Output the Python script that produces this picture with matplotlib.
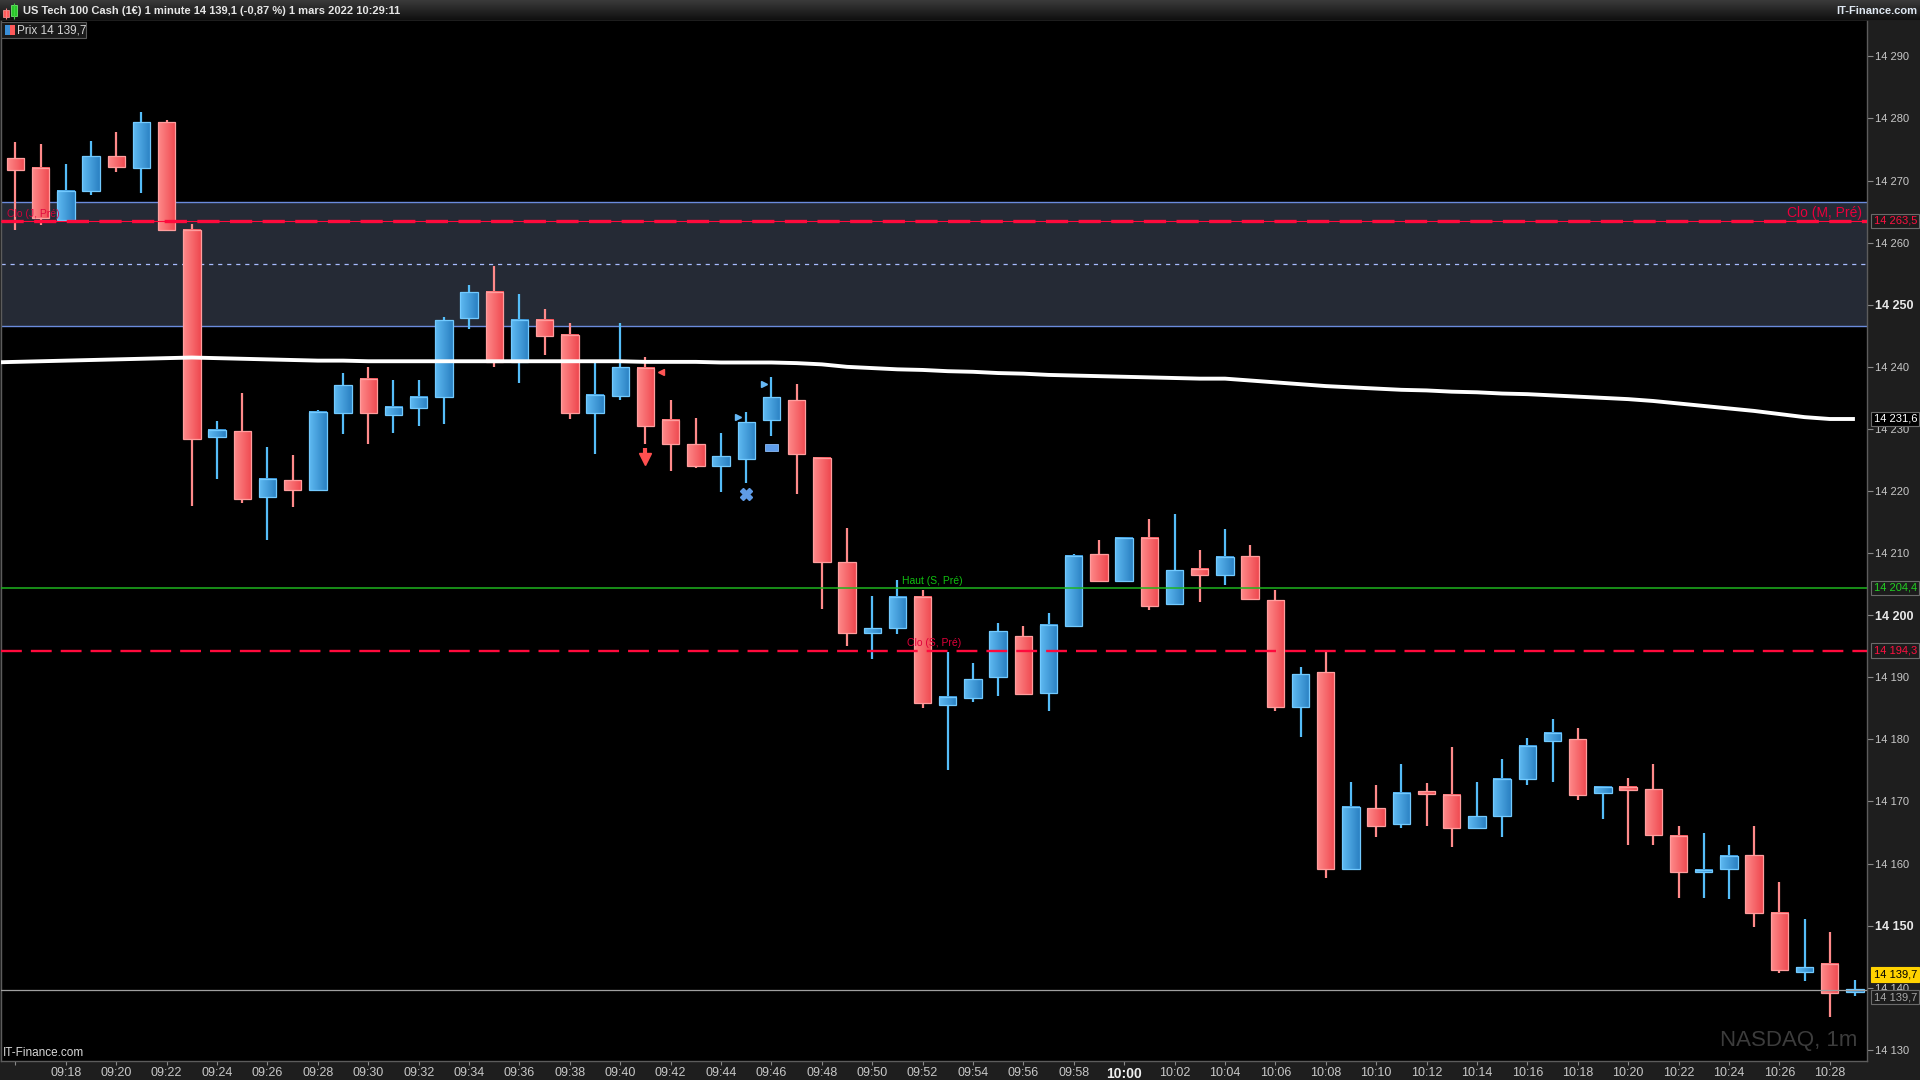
import numpy as np
import matplotlib.pyplot as plt
import matplotlib.transforms as mtransforms
from matplotlib.colors import LinearSegmentedColormap
from matplotlib.patches import Rectangle

plt.rcParams['font.family'] = ['Liberation Sans', 'DejaVu Sans']
plt.rcParams['lines.scale_dashes'] = False
NARROW = ['Liberation Sans Narrow', 'Liberation Sans', 'DejaVu Sans']

# US Tech 100 Cash, 1 minute candles, 1 mars 2022, first candle 09:16
first_minute = '09:16'
opens = [14273.6, 14272.0, 14263.7, 14268.4, 14273.9, 14272.1, 14279.4, 14262.1, 14228.7, 14229.6,
         14219.1, 14221.7, 14220.1, 14232.6, 14238.0, 14232.2, 14233.3, 14235.2, 14247.9, 14252.0,
         14240.7, 14247.5, 14245.1, 14232.5, 14235.3, 14239.8, 14231.4, 14227.5, 14224.1, 14225.2,
         14231.5, 14234.6, 14225.3, 14208.5, 14197.2, 14197.9, 14203.0, 14185.5, 14186.7, 14190.0,
         14196.6, 14187.4, 14198.2, 14209.8, 14205.5, 14212.5, 14201.8, 14207.5, 14206.4, 14209.5,
         14202.4, 14185.2, 14190.8, 14159.1, 14168.9, 14166.3, 14171.5, 14171.1, 14165.7, 14167.6,
         14173.6, 14179.7, 14180.0, 14171.3, 14172.4, 14172.0, 14164.4, 14158.6, 14159.1, 14161.3,
         14152.0, 14142.6, 14143.9, 14139.3]
highs = [14276.2, 14275.9, 14272.7, 14276.4, 14277.8, 14281.0, 14279.7, 14263.0, 14231.3, 14235.8,
         14227.1, 14225.8, 14233.0, 14239.0, 14240.0, 14237.9, 14237.9, 14248.1, 14253.2, 14256.2,
         14251.7, 14249.3, 14247.1, 14240.8, 14247.1, 14241.6, 14234.7, 14231.8, 14229.3, 14232.7,
         14238.4, 14237.2, 14225.5, 14214.0, 14203.1, 14205.7, 14204.1, 14194.0, 14192.3, 14198.7,
         14198.2, 14200.4, 14209.9, 14212.1, 14212.5, 14215.5, 14216.3, 14210.5, 14213.9, 14211.3,
         14204.1, 14191.7, 14194.2, 14173.1, 14172.7, 14176.0, 14173.0, 14178.8, 14173.1, 14176.9,
         14180.2, 14183.3, 14181.9, 14172.4, 14173.7, 14176.1, 14166.0, 14165.0, 14163.0, 14166.0,
         14157.1, 14151.0, 14149.0, 14141.2]
lows = [14262.0, 14262.9, 14263.5, 14267.6, 14271.3, 14268.0, 14262.1, 14217.6, 14222.0, 14218.1,
        14212.1, 14217.5, 14220.1, 14229.2, 14227.6, 14229.4, 14230.4, 14230.8, 14246.1, 14240.0,
        14237.4, 14241.9, 14231.6, 14226.0, 14234.7, 14227.5, 14223.3, 14223.7, 14219.9, 14221.3,
        14228.8, 14219.5, 14201.0, 14195.1, 14193.0, 14197.0, 14185.1, 14175.1, 14186.1, 14187.0,
        14187.3, 14184.6, 14198.2, 14205.5, 14205.5, 14200.9, 14201.8, 14202.2, 14204.8, 14202.6,
        14184.5, 14180.4, 14157.6, 14159.1, 14164.3, 14165.8, 14166.0, 14162.6, 14165.7, 14164.3,
        14172.7, 14173.2, 14170.3, 14167.1, 14163.0, 14163.0, 14154.5, 14154.5, 14154.3, 14149.8,
        14142.4, 14141.1, 14135.3, 14138.6]
closes = [14271.7, 14263.9, 14268.4, 14273.9, 14272.2, 14279.4, 14262.1, 14228.3, 14229.9, 14218.7,
          14222.0, 14220.1, 14232.8, 14237.0, 14232.5, 14233.6, 14235.1, 14247.6, 14252.0, 14240.7,
          14247.6, 14244.9, 14232.5, 14235.4, 14239.9, 14230.4, 14227.5, 14224.1, 14225.6, 14231.1,
          14235.2, 14226.0, 14208.5, 14197.1, 14198.0, 14203.0, 14185.8, 14186.9, 14189.7, 14197.4,
          14187.3, 14198.5, 14209.6, 14205.5, 14212.5, 14201.5, 14207.2, 14206.4, 14209.3, 14202.6,
          14185.2, 14190.5, 14159.1, 14169.1, 14166.1, 14171.3, 14171.3, 14165.7, 14167.6, 14173.6,
          14179.0, 14181.0, 14171.1, 14172.4, 14171.9, 14164.6, 14158.6, 14159.0, 14161.2, 14152.0,
          14142.8, 14143.4, 14139.2, 14139.7]

# long moving average (white), one value per minute from 09:15
ma_first_minute = '09:15'
ma_values = [14240.7, 14240.8, 14240.9, 14241.0, 14241.1, 14241.2, 14241.3, 14241.4, 14241.5, 14241.4,
             14241.3, 14241.2, 14241.1, 14241.0, 14241.0, 14240.9, 14240.9, 14240.9, 14240.9, 14240.9,
             14240.9, 14240.9, 14240.9, 14240.9, 14240.9, 14240.9, 14240.8, 14240.8, 14240.8, 14240.7,
             14240.7, 14240.7, 14240.6, 14240.4, 14240.0, 14239.8, 14239.6, 14239.5, 14239.3, 14239.2,
             14239.0, 14238.9, 14238.7, 14238.6, 14238.5, 14238.4, 14238.3, 14238.2, 14238.1, 14238.1,
             14237.8, 14237.5, 14237.2, 14236.9, 14236.7, 14236.5, 14236.3, 14236.2, 14236.0, 14235.9,
             14235.7, 14235.6, 14235.4, 14235.2, 14235.0, 14234.8, 14234.5, 14234.1, 14233.7, 14233.3,
             14232.9, 14232.4, 14231.9, 14231.6, 14231.6]

# reference levels
band_low, band_mid, band_high = 14246.5, 14256.5, 14266.5
clo_month = 14263.5      # Clo (M, Pré) / Clo (J, Pré)
haut_week = 14204.4      # Haut (S, Pré)
clo_week = 14194.3       # Clo (S, Pré)
last_price = 14139.7
ma_last = 14231.6

# signal markers (minute, price)
arrow_down = ('09:41', 14227.0, 14224.6)
tri_left = [('09:41', 14239.1)]
tri_right = [('09:45', 14232.0), ('09:46', 14237.2)]
cross_marks = [('09:45', 14219.6)]
dash_marks = [('09:46', 14227.0)]


def to_min(t):
    h, m = t.split(':')
    return int(h) * 60 + int(m)


t0 = to_min(first_minute)


def idx(t):
    return to_min(t) - t0


def fmt_price(v, dec=0):
    return f'{v:,.{dec}f}'.replace(',', ' ').replace('.', ',')


W, H = 1920, 1080
fig = plt.figure(figsize=(19.2, 10.8), dpi=100, facecolor='#1e1e1e')

# title bar
tb = fig.add_axes([0, 1 - 21 / H, 1, 21 / H])
tb.imshow(np.linspace(0, 1, 32).reshape(-1, 1),
          cmap=LinearSegmentedColormap.from_list('bar', ['#3a3a3a', '#0e0e0e']),
          extent=(0, W, 21, 0), aspect='auto')
tb.set_xlim(0, W)
tb.set_ylim(21, 0)
tb.axis('off')
tb.axhline(20.5, color='#5e5e5e', lw=1)
tb.add_patch(Rectangle((3, 10), 6, 7, fc='#ff5a5a', ec='#ffa0a0', lw=0.5))
tb.vlines(6, 8, 19, color='#ff8080', lw=0.8)
tb.vlines(14, 3, 19, color='#40d040', lw=0.8)
tb.add_patch(Rectangle((11, 5), 6, 11, fc='#28c828', ec='#80ff80', lw=0.5))
fig.text(23 / W, 1 - 11 / H, 'US Tech 100 Cash (1€) 1 minute 14 139,1 (-0,87 %) 1 mars 2022 10:29:11',
         color='#e6e6e6', fontsize=8, fontweight='bold', va='center', ha='left')
fig.text(1 - 3 / W, 1 - 11 / H, 'IT-Finance.com', color='#dfe8f2', fontsize=8,
         fontweight='bold', va='center', ha='right')

# main chart
ax = fig.add_axes([1 / W, 19 / H, 1866 / W, 1040 / H], facecolor='black')
n = len(opens)

# shaded band and its borders
ax.axhspan(band_low, band_high, color='#252a35', zorder=0, lw=0)
ax.axhline(band_high, color='#6b8bdc', lw=1, zorder=1)
ax.axhline(band_low, color='#6b8bdc', lw=1, zorder=1)
ax.axhline(band_mid, color='#a8bcff', lw=0.9, dashes=(3, 3.5), zorder=1)

# candles
grad = np.linspace(0, 1, 64).reshape(1, -1)
cm_up = LinearSegmentedColormap.from_list('up', ['#5fbaf2', '#2a80c2'])
cm_dn = LinearSegmentedColormap.from_list('dn', ['#ff8a8a', '#ee484f'])
bw = 0.69
for i, (o, h, l, c) in enumerate(zip(opens, highs, lows, closes)):
    up = c >= o
    ax.vlines(i, l, h, color='#55bdf8' if up else '#ff8a8a', lw=1.6, zorder=2)
    lo, hi = min(o, c), max(o, c)
    if hi - lo < 0.45:
        mid = (hi + lo) / 2
        lo, hi = mid - 0.22, mid + 0.22
    ax.imshow(grad, cmap=cm_up if up else cm_dn, extent=(i - bw / 2, i + bw / 2, lo, hi),
              aspect='auto', interpolation='bilinear', zorder=3)
    ax.add_patch(Rectangle((i - bw / 2, lo), bw, hi - lo, fill=False,
                           ec='#72caff' if up else '#ff9e9e', lw=0.9, zorder=3.1))

# moving average
ma_x = np.arange(len(ma_values)) + (to_min(ma_first_minute) - t0)
ax.plot(ma_x, ma_values, color='white', lw=2.8, zorder=4, solid_capstyle='butt')

# level lines
ax.axhline(clo_month, color='#ff0a3c', lw=0.8, zorder=5)
ax.axhline(clo_month, color='#ff0a3c', lw=2.4, dashes=(16, 7.5), zorder=5)
ax.axhline(haut_week, color='#1fb51f', lw=1.1, zorder=5)
ax.axhline(clo_week, color='#ff0a3c', lw=1.7, dashes=(15, 6.5), zorder=5)
ax.axhline(last_price, color='#a0a0a0', lw=0.9, zorder=5)

# line captions
ax.text(-0.35, clo_month + 0.35, 'Clo (J, Pré)', color='#e0003a', fontsize=7.5,
        va='bottom', ha='left', zorder=6, alpha=0.9)
ax.text(0.9974, clo_month + 0.1, 'Clo (M, Pré)', color='#e8003c', fontsize=10,
        va='bottom', ha='right', zorder=6,
        transform=mtransforms.blended_transform_factory(ax.transAxes, ax.transData))
ax.text(35.2, haut_week + 0.35, 'Haut (S, Pré)', color='#10c010', fontsize=7.5,
        va='bottom', ha='left', zorder=6)
ax.text(35.4, clo_week + 0.45, 'Clo (S, Pré)', color='#e0003a', fontsize=7.5,
        va='bottom', ha='left', zorder=6)

# signals
t_arrow, y_from, y_to = arrow_down
ax.vlines(idx(t_arrow), y_to + 0.9, y_from, color='#ff5050', lw=3, zorder=6)
ax.plot(idx(t_arrow), y_to + 0.5, marker='v', ms=8, color='#ff5050', mec='#ff5050', zorder=6)
for t, p in tri_left:
    ax.plot(idx(t) + 0.63, p, marker='<', ms=5, color='#ff5555', zorder=6)
for t, p in tri_right:
    ax.plot(idx(t) - 0.31, p, marker='>', ms=5, color='#66b8f5', zorder=6)
for t, p in cross_marks:
    ax.plot(idx(t), p, marker='X', ms=9, color='#5f9be6', mec='#5f9be6', zorder=6)
for t, p in dash_marks:
    ax.add_patch(Rectangle((idx(t) - 0.25, p - 0.5), 0.5, 1.0, fc='#5f9dea',
                           ec='#8dbcf5', lw=0.6, zorder=6))

# watermark texts
ax.text(0.9946, 0.020, 'NASDAQ, 1m', transform=ax.transAxes, color='#3c3c3c', fontsize=16,
        ha='right', va='center', zorder=1)
ax.text(0.001, 0.0075, 'IT-Finance.com', transform=ax.transAxes, color='#d8d8d8',
        fontsize=8.5, family=NARROW, ha='left', va='center', zorder=6)

# price box top-left
fig.text(17 / W, 1 - 30.5 / H, 'Prix 14 139,7', color='#d6d6d6', fontsize=8.5,
         va='center', ha='left', zorder=10)
fig.add_artist(Rectangle((1 / W, 1 - 38 / H), 85 / W, 16 / H, transform=fig.transFigure,
                         fc='#1a1a1a', ec='#5a5a5a', lw=0.8, zorder=9))
fig.add_artist(Rectangle((5 / W, 1 - 35 / H), 5 / W, 10 / H, transform=fig.transFigure,
                         fc='#3a8fd8', lw=0, zorder=11))
fig.add_artist(Rectangle((10 / W, 1 - 35 / H), 5 / W, 10 / H, transform=fig.transFigure,
                         fc='#ff5a5a', lw=0, zorder=11))

# axes limits and ticks
ax.set_xlim(-0.575, 73.48)
ax.set_ylim(14128.2, 14295.7)

yt = list(range(14130, 14300, 10))
ax.yaxis.tick_right()
ax.set_yticks(yt)
ax.set_yticklabels([fmt_price(v) for v in yt])
ax.tick_params(axis='y', colors='#8a8a8a', labelcolor='#c8c8c8', labelsize=8,
               length=4, width=0.8, pad=2)
for lab, v in zip(ax.get_yticklabels(), yt):
    if v % 50 == 0:
        lab.set_fontweight('bold')
        lab.set_color('#e8e8e8')
        lab.set_fontsize(9)

xt = list(range(0, n, 2))
labels = []
for k in xt:
    m = t0 + k
    labels.append('' if k == 0 else f'{m // 60:02d}:{m % 60:02d}')
ax.set_xticks(xt)
ax.set_xticklabels(labels, family=NARROW)
ax.tick_params(axis='x', colors='#8a8a8a', labelcolor='#c8c8c8', labelsize=9,
               length=3, width=0.8, pad=1)
for lab in ax.get_xticklabels():
    if lab.get_text() == '10:00':
        lab.set_fontweight('bold')
        lab.set_color('#f0f0f0')
        lab.set_fontsize(10)

ax.spines['top'].set_visible(False)
for side in ['left', 'right', 'bottom']:
    ax.spines[side].set_color('#5c5c5c')
    ax.spines[side].set_linewidth(1)

# price boxes on the right scale
tr = mtransforms.blended_transform_factory(ax.transAxes, ax.transData)


def price_box(y, text, fg, bg, ec='#6a6a6a'):
    ax.text(1.0035, y, text, transform=tr, ha='left', va='center', fontsize=8, color=fg,
            zorder=20, clip_on=False,
            bbox=dict(boxstyle='square,pad=0.2', fc=bg, ec=ec, lw=0.8))


price_box(clo_month, fmt_price(clo_month, 1), '#ff1040', '#1c1c1c')
price_box(ma_last, fmt_price(ma_last, 1), '#ffffff', '#000000')
price_box(haut_week, fmt_price(haut_week, 1), '#22d022', '#1c1c1c')
price_box(clo_week, fmt_price(clo_week, 1), '#ff1040', '#1c1c1c')
price_box(last_price + 2.4, fmt_price(last_price, 1), '#000000', '#ffd200', ec='#ffd200')
price_box(last_price - 1.2, fmt_price(last_price, 1), '#a8a8a8', '#1c1c1c')

fig.savefig('out.png', dpi=100, facecolor=fig.get_facecolor())
